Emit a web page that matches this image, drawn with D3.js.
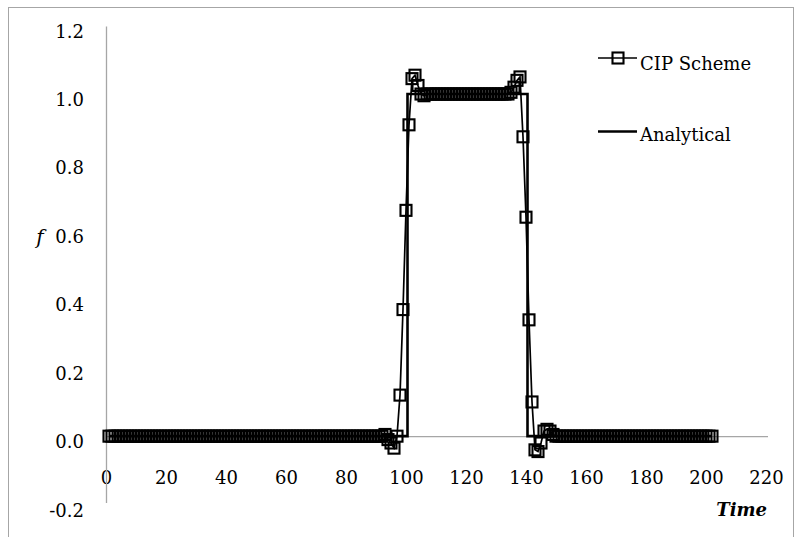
<!DOCTYPE html>
<html>
<head>
<meta charset="utf-8">
<script src="https://cdn.jsdelivr.net/npm/d3@7"></script>
<style>
    body { margin: 0; background: #fff; }
    svg text { font-family: "DejaVu Serif", serif; font-size: 18px; fill: #000; }
    .axis path { stroke: #a6a6a6; stroke-width: 1.3; }
    .axis line { display: none; }
    .cip-line { fill: none; stroke: #000; stroke-width: 1.7; }
    .cip-mark { fill: none; stroke: #000; stroke-width: 2.1; }
    .analytical { fill: none; stroke: #000; stroke-width: 2.6; }
</style>
</head>
<body>
<svg id="chart" width="795" height="537"></svg>
<script>
"use strict";

// time of each CIP sample (one per unit step, 1 .. 202)
var cipTime = d3.range(1, 203);

// CIP scheme values, ten per row (t = 1 .. 202)
var cipValue = [
    0, 0, 0, 0, 0, 0, 0, 0, 0, 0,
    0, 0, 0, 0, 0, 0, 0, 0, 0, 0,
    0, 0, 0, 0, 0, 0, 0, 0, 0, 0,
    0, 0, 0, 0, 0, 0, 0, 0, 0, 0,
    0, 0, 0, 0, 0, 0, 0, 0, 0, 0,
    0, 0, 0, 0, 0, 0, 0, 0, 0, 0,
    0, 0, 0, 0, 0, 0, 0, 0, 0, 0,
    0, 0, 0, 0, 0, 0, 0, 0, 0, 0,
    0, 0, 0, 0, 0, 0, 0, 0, 0, 0,
    0, 0, 0.005, -0.01, -0.02, -0.035, 0, 0.12, 0.37, 0.66,
    0.91, 1.045, 1.055, 1.025, 1.0, 0.995, 1.0, 1.0, 1.0, 1.0,
    1, 1, 1, 1, 1, 1, 1, 1, 1, 1,
    1, 1, 1, 1, 1, 1, 1, 1, 1, 1,
    1, 1, 1, 1, 1.005, 1.02, 1.04, 1.05, 0.875, 0.64,
    0.34, 0.1, -0.04, -0.045, -0.02, 0.015, 0.02, 0.015, 0.005, 0,
    0, 0, 0, 0, 0, 0, 0, 0, 0, 0,
    0, 0, 0, 0, 0, 0, 0, 0, 0, 0,
    0, 0, 0, 0, 0, 0, 0, 0, 0, 0,
    0, 0, 0, 0, 0, 0, 0, 0, 0, 0,
    0, 0, 0, 0, 0, 0, 0, 0, 0, 0,
    0, 0
];

// analytical square pulse
var analyticalTime = [1, 100.5, 100.5, 140.5, 140.5, 202];
var analyticalValue = [0, 0, 1, 1, 0, 0];

var xTicks = [0, 20, 40, 60, 80, 100, 120, 140, 160, 180, 200, 220];
var yTicks = [-0.2, 0, 0.2, 0.4, 0.6, 0.8, 1.0, 1.2];

var seriesNames = ["CIP Scheme", "Analytical"];

var markSize = 11;

var svg = d3.select("#chart");

var x = d3.scaleLinear().domain([0, 220]).range([106, 766]);
var y = d3.scaleLinear().domain([-0.2, 1.2]).range([504.6, 25.6]);

// chart border
svg.append("rect")
    .attr("x", 8.5)
    .attr("y", 7.5)
    .attr("width", 785)
    .attr("height", 540)
    .attr("fill", "none")
    .attr("stroke", "#a6a6a6")
    .attr("stroke-width", 1);

// x axis sits on f = 0, labels hang lower
var xAxisG = svg.append("g")
    .attr("class", "axis")
    .attr("transform", "translate(0," + y(0) + ")")
    .call(d3.axisBottom(x).tickValues(xTicks).tickSize(0).tickSizeOuter(0));
xAxisG.select(".domain").attr("d", "M" + x(0) + ",0.5H" + (x(220) + 2));
xAxisG.selectAll("text")
    .attr("y", 484 - y(0))
    .attr("dy", 0);
xAxisG.attr("font-family", null).attr("font-size", null);

var yAxisG = svg.append("g")
    .attr("class", "axis")
    .attr("transform", "translate(" + x(0) + ",0)")
    .call(d3.axisLeft(y).tickValues(yTicks)
        .tickFormat(function (d) { return d.toFixed(1); })
        .tickSize(0).tickSizeOuter(0).tickPadding(22));
yAxisG.select(".domain").attr("d", "M0.5," + (y(1.2) + 1) + "V" + (y(-0.2) - 1.5));
yAxisG.selectAll("text").attr("dy", 11.5);
yAxisG.attr("font-family", null).attr("font-size", null);

// CIP series
var cipData = cipTime.map(function (t, i) { return [t, cipValue[i]]; });
var line = d3.line()
    .x(function (d) { return x(d[0]); })
    .y(function (d) { return y(d[1]); });

svg.append("path")
    .datum(cipData)
    .attr("class", "cip-line")
    .attr("d", line);

svg.append("g")
    .selectAll("rect")
    .data(cipData)
    .enter()
    .append("rect")
    .attr("class", "cip-mark")
    .attr("x", function (d) { return x(d[0]) - markSize / 2; })
    .attr("y", function (d) { return y(d[1]) - markSize / 2; })
    .attr("width", markSize)
    .attr("height", markSize);

// analytical series
var anData = analyticalTime.map(function (t, i) { return [t, analyticalValue[i]]; });
svg.append("path")
    .datum(anData)
    .attr("class", "analytical")
    .attr("d", line);

// axis titles
svg.append("text")
    .attr("x", 40)
    .attr("y", 244)
    .attr("text-anchor", "middle")
    .style("font-style", "italic")
    .style("font-size", "20px")
    .text("f");

svg.append("text")
    .attr("x", 767)
    .attr("y", 516)
    .attr("text-anchor", "end")
    .style("font-style", "italic")
    .style("font-weight", "bold")
    .text("Time");

// legend
var legend = svg.append("g");
legend.append("line")
    .attr("class", "cip-line")
    .attr("x1", 598).attr("x2", 637)
    .attr("y1", 58).attr("y2", 58);
legend.append("rect")
    .attr("class", "cip-mark")
    .attr("x", 618 - markSize / 2).attr("y", 58 - markSize / 2)
    .attr("width", markSize).attr("height", markSize);
legend.append("text")
    .attr("x", 640).attr("y", 70)
    .text(seriesNames[0]);

legend.append("line")
    .attr("class", "analytical")
    .attr("x1", 598).attr("x2", 637)
    .attr("y1", 131.5).attr("y2", 131.5);
legend.append("text")
    .attr("x", 640).attr("y", 141)
    .text(seriesNames[1]);
</script>
</body>
</html>
